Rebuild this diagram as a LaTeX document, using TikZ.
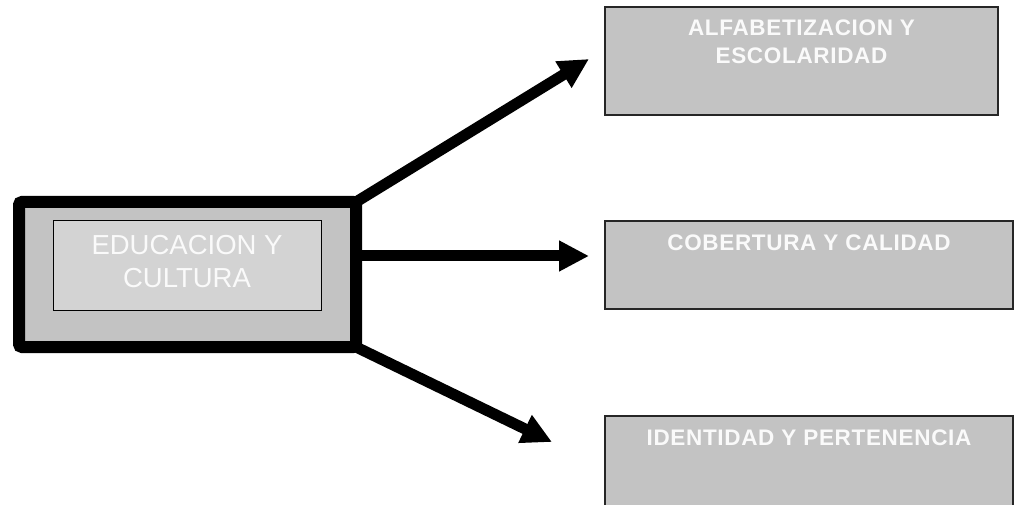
\documentclass[tikz,border=0pt]{standalone}
\usepackage{fontspec}
\setmainfont{Liberation Sans}
\usetikzlibrary{arrows.meta}
\definecolor{boxgray}{HTML}{C3C3C3}
\definecolor{innergray}{HTML}{D3D3D3}
\definecolor{txtwhite}{HTML}{FAFAFA}
\tikzset{
  rbox/.style={draw=black!85, line width=1.2pt, fill=boxgray, inner sep=0pt, outer sep=0pt},
  rtext/.style={anchor=north, inner sep=0pt, text=txtwhite, align=center,
    font=\bfseries\fontsize{22.5}{28}\selectfont\addfontfeature{LetterSpace=3}},
  bigarrow/.style={line width=11pt, -{Triangle[length=30pt,width=29pt]}},
}
\begin{document}
\begin{tikzpicture}[x=1pt,y=-1pt]
\useasboundingbox (0,0) rectangle (1015,505);
\clip (0,0) rectangle (1015,505);
% main box
\node[draw=black, line width=12pt, fill=boxgray, rounded corners=3pt,
  minimum width=337pt, minimum height=145pt, inner sep=0pt, outer sep=0pt]
  (outer) at (187.5,274.5) {};
\node[draw=black, line width=1pt, fill=innergray, minimum width=268pt,
  minimum height=89pt, inner sep=0pt, outer sep=0pt] (inner) at (187,265.5) {};
\node[anchor=north, inner sep=0pt, text=txtwhite, align=center,
  font=\fontsize{27.5}{33}\selectfont] (maintxt) at ([yshift=-14pt]inner.north)
  {EDUCACION Y\\CULTURA};
% right boxes
\node[rbox, minimum width=393pt, minimum height=108pt] (b1) at (801.5,61) {};
\node[rtext] (t1) at ([yshift=-13pt]b1.north) {ALFABETIZACION Y\\ESCOLARIDAD};
\node[rbox, minimum width=408pt, minimum height=88pt] (b2) at (809,265) {};
\node[rtext] (t2) at ([yshift=-14pt]b2.north) {COBERTURA Y CALIDAD};
\node[rbox, minimum width=408pt, minimum height=100pt] (b3) at (809,466) {};
\node[rtext] (t3) at ([yshift=-14pt]b3.north) {IDENTIDAD Y PERTENENCIA};
% arrow tips
\coordinate (p1) at (589,59);
\coordinate (p2) at (589,256);
\coordinate (p3) at (552,442);
\draw[bigarrow] (outer.north east) -- (p1);
\draw[bigarrow] (outer.east |- p2) -- (p2);
\draw[bigarrow] (outer.south east) -- (p3);
\end{tikzpicture}
\end{document}
